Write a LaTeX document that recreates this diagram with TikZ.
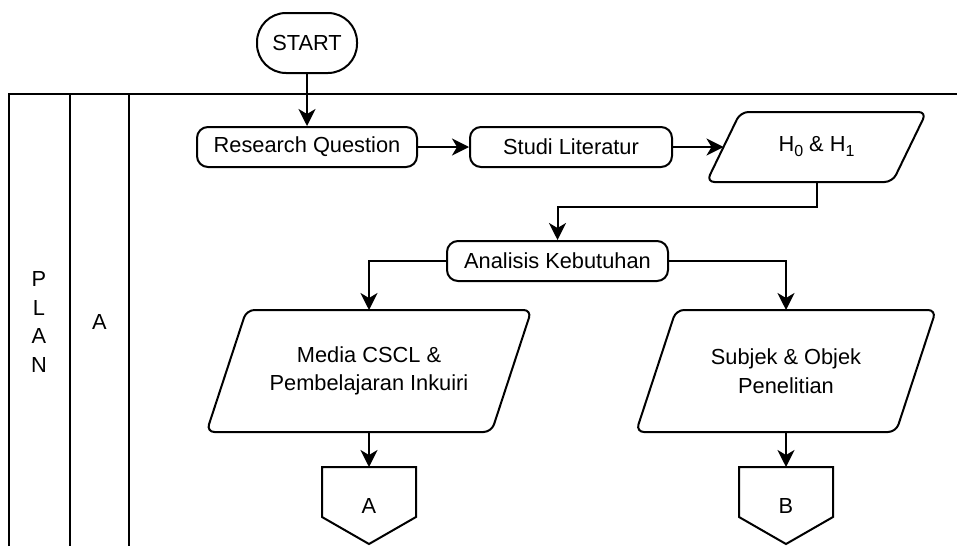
\documentclass[tikz,border=0pt]{standalone}
\usepackage{fontspec}
\setmainfont{Liberation Sans}
\usetikzlibrary{arrows.meta,calc}

% slanted data box drawn around a (borderless) node, #2 = half the skew
\newcommand{\slantbox}[2]{%
  \draw[outline] ($(#1.north west)+(#2,0)$) -- ($(#1.north east)+(#2,0)$)
    -- ($(#1.south east)+(-#2,0)$) -- ($(#1.south west)+(-#2,0)$) -- cycle;}
% off-page connector (pentagon pointing down) around a node
\newcommand{\offpagebox}[1]{%
  \draw[line width=2pt, line join=miter] (#1.north west) -- (#1.north east)
    -- ($(#1.south east)+(0,-27)$) -- (#1.south) -- ($(#1.south west)+(0,-27)$) -- cycle;}

\begin{document}
\begin{tikzpicture}[x=1pt,y=-1pt,
  line width=2pt,
  every node/.style={font=\fontsize{21.8}{28.5}\selectfont, inner sep=0pt},
  proc/.style={draw, rounded corners=11pt, minimum height=40pt},
  term/.style={draw, rounded corners=29pt, minimum width=100pt, minimum height=60pt},
  outline/.style={draw, line width=2pt, rounded corners=8pt, line join=round},
  flow/.style={-{Stealth[length=17pt,width=17pt,inset=5pt]}},
  lane/.style={line width=2pt}]
\useasboundingbox (0,0) rectangle (957,546);

% swimlane frame
\draw[lane] (9,546) -- (9,94) -- (957,94);
\draw[lane] (70,94) -- (70,546);
\draw[lane] (129,94) -- (129,546);
\node[align=center] (plan) at (39,322) {P\\L\\A\\N};
\node (laneA) at (99.5,322) {A};

% process nodes
\node[term] (start) at (307,43) {START};
\node[proc, minimum width=220pt] (rq) at (307,147) {Research Question};
\node[proc, minimum width=202pt] (sl) at (571,147) {Studi Literatur};
\node[minimum width=184pt, minimum height=68pt] (hyp) at (816.5,147)
  {H\raisebox{-5pt}{\fontsize{16}{16}\selectfont 0} \& H\raisebox{-5pt}{\fontsize{16}{16}\selectfont 1}};
\slantbox{hyp}{17}
\node[proc, minimum width=221pt] (ak) at (557.5,261) {Analisis Kebutuhan};
\node[minimum width=283pt, minimum height=120pt, align=center] (media) at (369,371)
  {Media CSCL \&\\Pembelajaran Inkuiri};
\slantbox{media}{20}
\node[minimum width=258pt, minimum height=120pt, align=center] (subj) at (786,371)
  {Subjek \& Objek\\Penelitian};
\slantbox{subj}{20}
\node[minimum width=92pt, minimum height=75pt] (offa) at (369,505.5) {A};
\offpagebox{offa}
\node[minimum width=92pt, minimum height=75pt] (offb) at (786,505.5) {B};
\offpagebox{offb}

% connectors
\draw[flow] (start) -- (rq);
\draw[flow] (rq) -- (sl);
\draw[flow] (sl) -- (hyp);
\draw[flow] (hyp.south) -- (hyp.south |- 0,207) -| (ak.north);
\draw[flow] (ak.west) -| (media.north);
\draw[flow] (ak.east) -| (subj.north);
\draw[flow] (media) -- (offa);
\draw[flow] (subj) -- (offb);
\end{tikzpicture}
\end{document}
